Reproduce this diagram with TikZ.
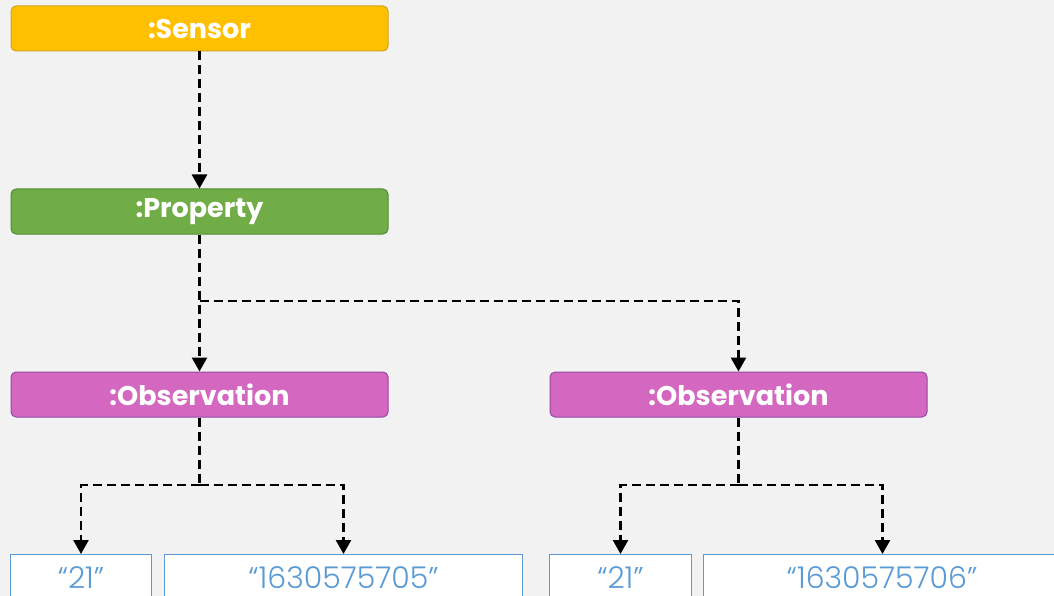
\documentclass[tikz,border=0pt]{standalone}
\usepackage{fontspec}
\setmainfont{Poppins}
\newfontfamily\litfont{Poppins Light}
\usetikzlibrary{arrows.meta}
\definecolor{bgcol}{HTML}{F2F2F2}
\definecolor{sensorfill}{HTML}{FFC000}
\definecolor{sensorline}{HTML}{D1A21E}
\definecolor{propfill}{HTML}{70AD47}
\definecolor{propline}{HTML}{548A35}
\definecolor{obsfill}{HTML}{D468C1}
\definecolor{obsline}{HTML}{9447A8}
\definecolor{litcol}{HTML}{5B9BD5}
\tikzset{
  classbox/.style={rounded corners=5pt, line width=1pt, minimum width=377pt,
    minimum height=45pt, inner sep=0pt, text=white,
    font=\fontsize{27}{32}\selectfont\bfseries},
  litbox/.style={fill=white, minimum height=42pt, inner sep=0pt, anchor=north,
    text=litcol, text height=26pt, text depth=0pt,
    font=\litfont\fontsize{30}{34}\selectfont},
  litedge/.style={draw=litcol, line width=1pt},
  link/.style={line width=2.5pt, dash pattern=on 9pt off 5pt,
    -{Triangle[width=15pt,length=14pt]}},
}
\begin{document}
\begin{tikzpicture}[x=1pt,y=-1pt]
  \fill[bgcol] (0,0) rectangle (1054,596);
  \useasboundingbox (0,0) rectangle (1054,596);
  \clip (0,0) rectangle (1054,596);

  % class instances
  \node[classbox, fill=sensorfill, draw=sensorline] (sensor) at (199.5,28.5) {:Sensor};
  \node[classbox, fill=propfill, draw=propline] (prop) at (199.5,211.5) {:Property};
  \node[classbox, fill=obsfill, draw=obsline] (obsA) at (199.5,394.5) {:Observation};
  \node[classbox, fill=obsfill, draw=obsline] (obsB) at (738.5,394.5) {:Observation};

  % literal values (open at the lower page edge)
  \node[litbox, minimum width=140pt] (valA) at (81,554) {“21”};
  \node[litbox, minimum width=357pt] (timeA) at (343.5,554) {“1630575705”};
  \node[litbox, minimum width=141pt] (valB) at (620.5,554) {“21”};
  \node[litbox, minimum width=350pt] (timeB) at (879,554) {\hspace*{6pt}“1630575706”};
  \draw[litedge] (valA.south west) |- (valA.north east) -- (valA.south east);
  \draw[litedge] (timeA.south west) |- (timeA.north east) -- (timeA.south east);
  \draw[litedge] (valB.south west) |- (valB.north east) -- (valB.south east);
  \draw[litedge] (timeB.south west) |- (timeB.north east);

  % branch points and entry point of the last box
  \coordinate (pj) at (199.5,301);
  \coordinate (aj) at (199.5,485);
  \coordinate (bj) at (738.5,485);
  \coordinate (tBin) at ([xshift=3.5pt]timeB.north);

  % links
  \draw[link] (sensor.south) -- (prop.north);
  \draw[link] (prop.south) -- (obsA.north);
  \draw[link] (pj) -| (obsB.north);
  \draw[link, -] (obsA.south) -- (aj);
  \draw[link] (aj) -| (valA.north);
  \draw[link] (aj) -| (timeA.north);
  \draw[link, -] (obsB.south) -- (bj);
  \draw[link] (bj) -| (valB.north);
  \draw[link] (bj) -| (tBin);
\end{tikzpicture}
\end{document}
